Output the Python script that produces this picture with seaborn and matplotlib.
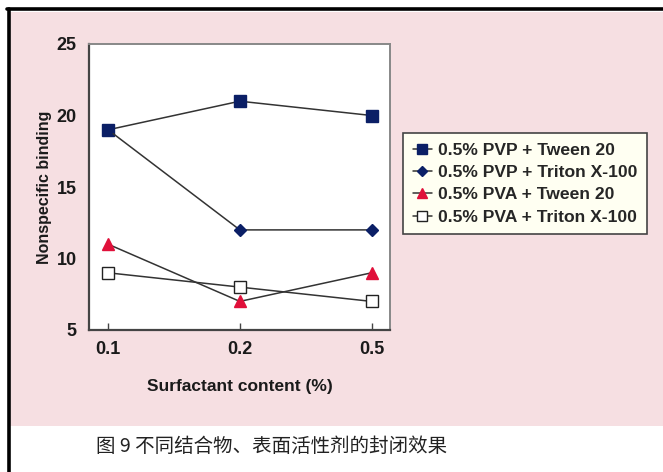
import matplotlib
matplotlib.use("Agg")
import matplotlib.pyplot as plt
import seaborn as sns
import pandas as pd
from matplotlib.lines import Line2D

# Data
surfactant = ["0.1", "0.2", "0.5"]
pvp_tween = [19, 21, 20]
pvp_triton = [19, 12, 12]
pva_tween = [11, 7, 9]
pva_triton = [9, 8, 7]
series_names = [
    "0.5% PVP + Tween 20",
    "0.5% PVP + Triton X-100",
    "0.5% PVA + Tween 20",
    "0.5% PVA + Triton X-100",
]
y_ticks = [5, 10, 15, 20, 25]
caption = "图 9 不同结合物、表面活性剂的封闭效果"

sns.set_theme(style="white")
LATIN = ["Liberation Sans", "DejaVu Sans"]
plt.rcParams["font.family"] = LATIN

PINK = "#f6dfe2"
NAVY = "#0b1f66"
RED = "#e0103a"

fig = plt.figure(figsize=(6.63, 4.72), dpi=100)
fig.patch.set_facecolor("white")

# pink panel and black left/top border
panel = plt.Rectangle((10 / 663, 1 - 426 / 472), 653 / 663, 414 / 472,
                      transform=fig.transFigure, facecolor=PINK,
                      edgecolor="none", zorder=-5)
fig.add_artist(panel)
fig.add_artist(Line2D([8.5 / 663, 8.5 / 663], [0, 1 - 8.5 / 472], color="black",
                      lw=2.6, transform=fig.transFigure))
fig.add_artist(Line2D([7 / 663, 1], [1 - 8.5 / 472, 1 - 8.5 / 472], color="black",
                      lw=2.6, transform=fig.transFigure))

ax = fig.add_axes([89 / 663, 1 - 330 / 472, 301 / 663, 286 / 472])
ax.set_zorder(2)
ax.set_facecolor("white")

styles = [
    (pvp_tween, "s", NAVY, NAVY, 9),
    (pvp_triton, "D", NAVY, NAVY, 6.5),
    (pva_tween, "^", RED, RED, 9),
    (pva_triton, "s", "white", "#222222", 9),
]
handles = []
for name, (vals, mk, fc, ec, ms) in zip(series_names, styles):
    df = pd.DataFrame({"x": surfactant, "y": vals})
    sns.lineplot(data=df, x="x", y="y", ax=ax, color="#333333", lw=1.1,
                 marker=mk, markersize=ms, markerfacecolor=fc,
                 markeredgecolor=ec, markeredgewidth=1.0, zorder=3)
    handles.append(Line2D([], [], color="#333333", lw=1.1, marker=mk,
                          markersize=ms * 0.75, markerfacecolor=fc,
                          markeredgecolor=ec, label=name))

ax.set_xlim(-0.145, 2.14)
ax.set_ylim(5, 25)
ax.set_yticks(y_ticks)
ax.set_yticklabels([str(t) for t in y_ticks])

for side in ["left", "bottom"]:
    ax.spines[side].set_color("#444444")
    ax.spines[side].set_linewidth(1.6)
for side in ["top", "right"]:
    ax.spines[side].set_color("#888888")
    ax.spines[side].set_linewidth(1.4)

ax.tick_params(axis="x", direction="in", length=5, width=1, color="#444444",
               bottom=True, labelsize=13, pad=8)
ax.tick_params(axis="y", left=False, labelsize=13, pad=3)
for lab in ax.get_xticklabels() + ax.get_yticklabels():
    lab.set_fontweight("bold")
    lab.set_color("#1a1a1a")

ax.set_xlabel("Surfactant content (%)", fontsize=12.5, fontweight="bold",
              color="#1a1a1a", labelpad=15)
ax.set_ylabel("Nonspecific binding", fontsize=11.5, fontweight="bold",
              color="#1a1a1a", labelpad=3)

leg = fig.legend(handles=handles, loc="upper left",
                 bbox_to_anchor=(403 / 663, 1 - 133 / 472),
                 bbox_transform=fig.transFigure, frameon=True, fancybox=False,
                 borderaxespad=0, handlelength=1.1, handletextpad=0.35,
                 labelspacing=0.4, borderpad=0.55,
                 prop={"size": 12.6, "weight": "bold", "family": LATIN})
leg.get_frame().set_facecolor("#fffff2")
leg.get_frame().set_edgecolor("#444444")
leg.get_frame().set_linewidth(1.2)
leg.get_frame().set_alpha(1)
leg.set_zorder(3)

fig.text(272 / 663, 1 - 446 / 472, caption, ha="center", va="center",
         fontsize=14, family=["Noto Sans CJK SC", "DejaVu Sans"], color="#222222")

fig.savefig("out.png", dpi=100, facecolor="white")
